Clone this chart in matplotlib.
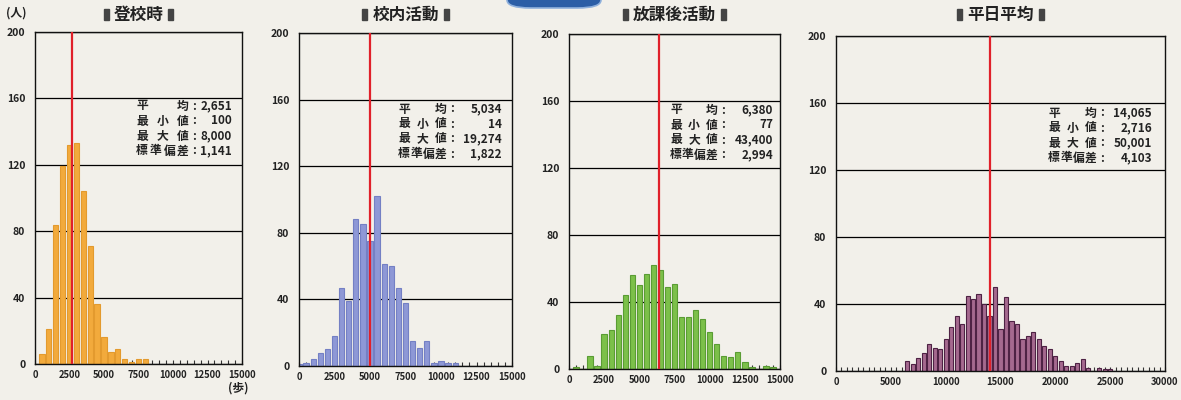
import numpy as np
import matplotlib.pyplot as plt
from matplotlib.patches import Rectangle, FancyBboxPatch
from matplotlib.ticker import MultipleLocator

plt.rcParams['font.family'] = ['Noto Sans CJK JP', 'DejaVu Sans']

W, H = 1181, 400
BG = '#f2f0ea'

titles = ['登校時', '校内活動', '放課後活動', '平日平均']

# histogram counts (persons) per 500-step bin, first bin centre given below
first_bin = [500, 0, 500, 6500]
bin_step = 500
counts_1 = [6, 21, 84, 119, 132, 133, 104, 71, 36, 16, 7, 9, 3, 1, 3, 3]
counts_2 = [1, 2, 4, 8, 10, 18, 47, 39, 88, 85, 75, 102, 61, 60, 47, 38, 15, 11, 15,
            2, 3, 2, 2]
counts_3 = [1, 0, 8, 2, 21, 23, 32, 44, 56, 50, 57, 62, 59, 49, 51, 31, 31, 35, 30,
            22, 15, 8, 7, 10, 4, 1, 0, 2, 1]
counts_4 = [6, 4, 8, 11, 16, 14, 13, 19, 26, 33, 28, 45, 43, 46, 40, 33, 50, 25, 44,
            30, 28, 19, 21, 23, 19, 15, 13, 9, 6, 3, 3, 5, 7, 2, 0, 2, 1, 1]
counts = [counts_1, counts_2, counts_3, counts_4]

means = [2651, 5034, 6380, 14065]
stat_labels = ['平均', '最小値', '最大値', '標準偏差']
stat_values = [
    ['2,651', '100', '8,000', '1,141'],
    ['5,034', '14', '19,274', '1,822'],
    ['6,380', '77', '43,400', '2,994'],
    ['14,065', '2,716', '50,001', '4,103'],
]

x_max = [15000, 15000, 15000, 30000]
x_step = [2500, 2500, 2500, 5000]
y_ticks = [0, 40, 80, 120, 160, 200]

fills = ['#f2aa3c', '#8e98d6', '#7cc04a', '#a5698f']
edges = ['#e39a2e', '#7480c4', '#5a9c34', '#4e2244']

# layout in pixels: left, right, top, bottom
boxes = [(35, 242, 32, 364), (299, 512, 33, 366), (569, 780, 34, 369), (836, 1165, 36, 371)]
# stats text: label start, label end, colon, value right edge, first line y
stat_pos = [(136, 189, 194, 232, 106), (398, 447, 452, 502, 109),
            (670, 718, 723, 773, 110), (1048, 1097, 1102, 1152, 113)]
line_gap = 15

fig = plt.figure(figsize=(W / 100, H / 100), dpi=100, facecolor=BG)


def fx(px):
    return px / W


def fy(py):
    return 1 - py / H


renderer = fig.canvas.get_renderer()

for i in range(4):
    l, r, t, b = boxes[i]
    ax = fig.add_axes([fx(l), fy(b), fx(r) - fx(l), fy(t) - fy(b)])
    ax.set_facecolor(BG)
    centers = first_bin[i] + bin_step * np.arange(len(counts[i]))
    ax.bar(centers, counts[i], width=380, color=fills[i], edgecolor=edges[i],
           linewidth=0.8, zorder=2)
    ax.axvline(means[i], color='#e0202a', lw=1.6, zorder=3)

    ax.set_xlim(0, x_max[i])
    ax.set_ylim(0, 200)
    ax.set_xticks(np.arange(0, x_max[i] + 1, x_step[i]))
    ax.xaxis.set_minor_locator(MultipleLocator(500))
    ax.set_yticks(y_ticks)
    ax.set_axisbelow(True)
    ax.yaxis.grid(True, color='black', lw=0.9)
    ax.tick_params(axis='y', length=0, pad=7, labelsize=7.5)
    ax.tick_params(axis='x', which='both', direction='in', length=3, width=0.8,
                   color='#333333', pad=4, labelsize=6.8)
    for lab in ax.get_xticklabels() + ax.get_yticklabels():
        lab.set_fontweight('bold')
        lab.set_color('#222222')
    for sp in ax.spines.values():
        sp.set_linewidth(1.0)
        sp.set_color('#111111')

    # title with small dark bars on either side
    cx = (l + r) / 2
    ttl = fig.text(fx(cx), fy(15), titles[i], ha='center', va='center',
                   fontsize=12, fontweight='bold', color='#222222')
    bb = ttl.get_window_extent(renderer=renderer)
    for bx in (bb.x0 - 10, bb.x1 + 5):
        fig.add_artist(Rectangle((bx / W, fy(20)), 5 / W, 11 / H,
                                 transform=fig.transFigure, color='#444444'))

    # statistics block
    s0, s1, sc, sr, sy = stat_pos[i]
    cw = 12
    for j, lab in enumerate(stat_labels):
        yy = fy(sy + j * line_gap)
        n = len(lab)
        for k, ch in enumerate(lab):
            if n == 2:
                cxx = s0 + cw / 2 + k * (s1 - s0 - cw)
            else:
                cxx = s0 + cw / 2 + k * (s1 - s0 - cw) / (n - 1)
            fig.text(fx(cxx), yy, ch, ha='center', va='center', fontsize=8.5,
                     fontweight='bold', color='#222222')
        fig.text(fx(sc), yy, ':', ha='center', va='center', fontsize=8.5,
                 fontweight='bold', color='#222222')
        fig.text(fx(sr), yy, stat_values[i][j], ha='right', va='center',
                 fontsize=8.5, fontweight='bold', color='#222222')

fig.text(fx(16), fy(13), '(人)', ha='center', va='center', fontsize=8.5,
         fontweight='bold', color='#222222')
fig.text(fx(238), fy(388), '(歩)', ha='center', va='center', fontsize=8.5,
         fontweight='bold', color='#222222')

# cut-off blue label at the top edge
fig.add_artist(FancyBboxPatch((fx(507), fy(8)), fx(94), 0.06,
                              boxstyle='round,pad=0,rounding_size=0.02',
                              transform=fig.transFigure, facecolor='#2c5ea6',
                              edgecolor='#8fb0dc', lw=1.2))

fig.savefig('out.png', dpi=100, facecolor=BG)
